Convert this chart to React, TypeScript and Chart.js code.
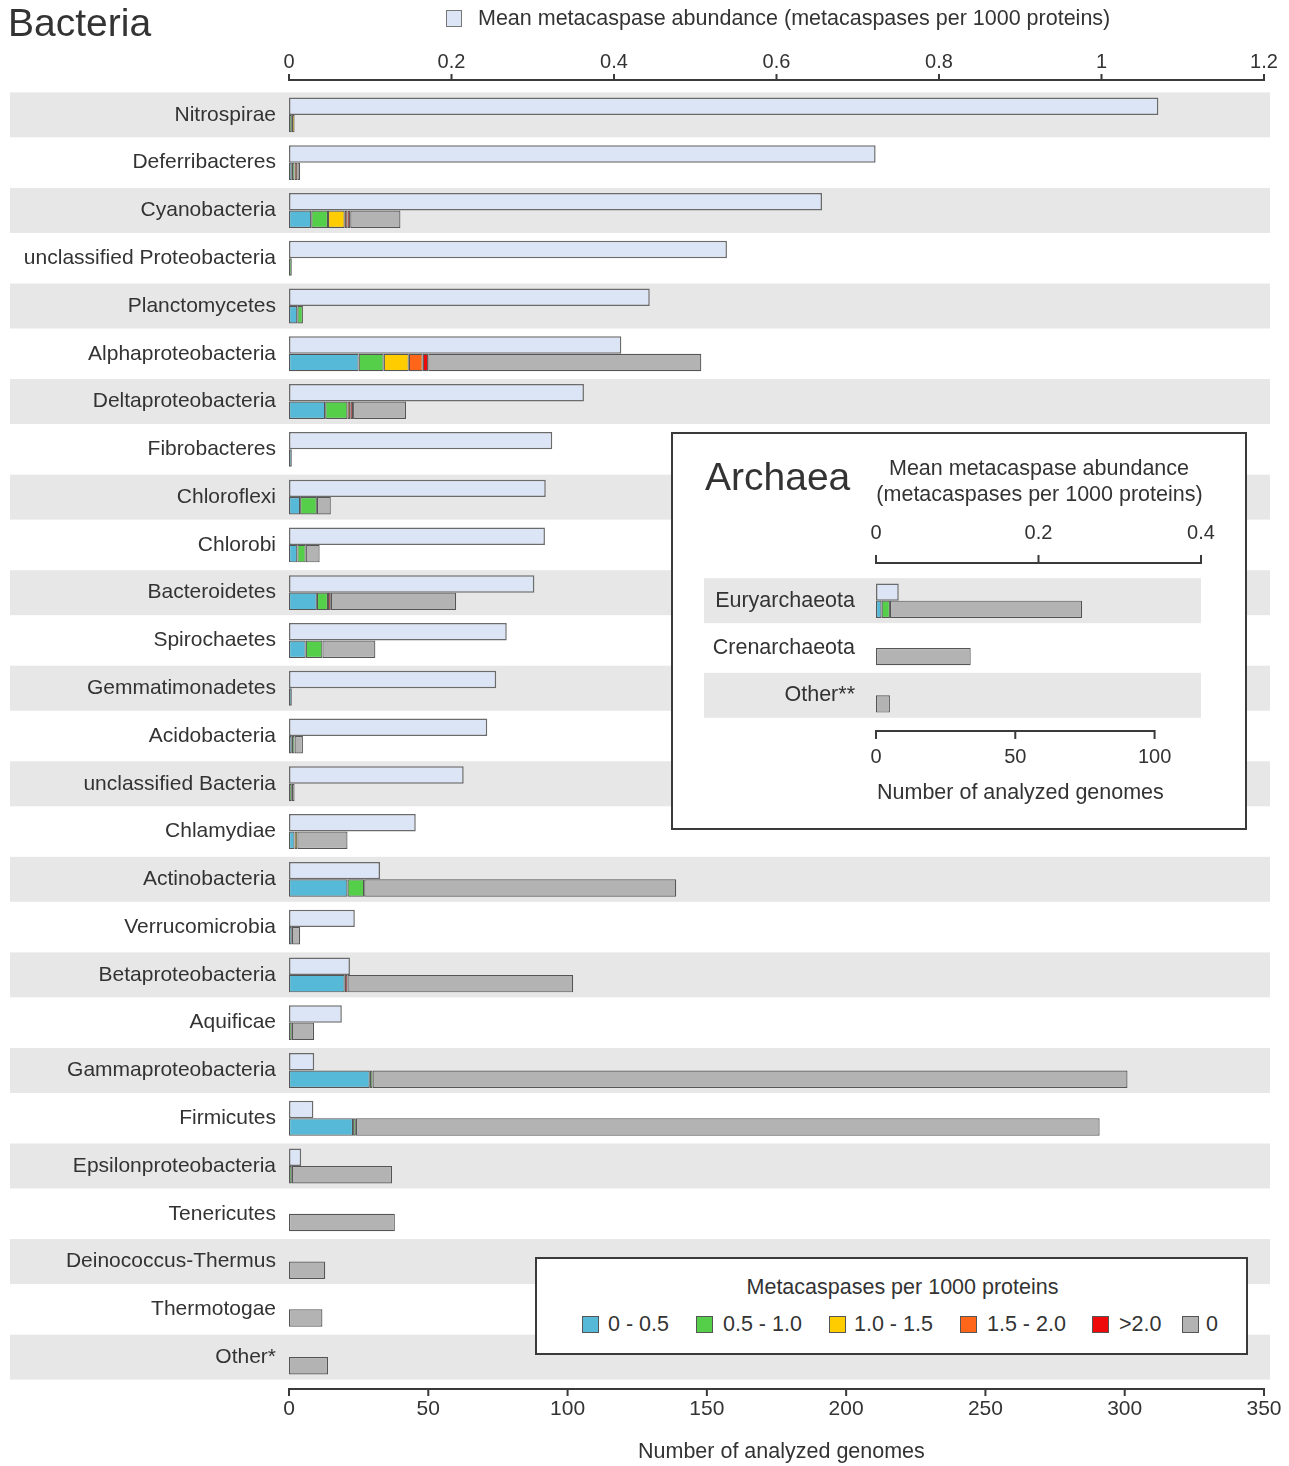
import React, { useEffect, useRef } from "react";
import { Chart, registerables } from "chart.js";

Chart.register(...registerables);

const FONT = "'Liberation Sans', Arial, Helvetica, sans-serif";
const INK = "#333333";

// ---------------- Bacteria data ----------------
const bacteriaCategories = [
  "Nitrospirae",
  "Deferribacteres",
  "Cyanobacteria",
  "unclassified Proteobacteria",
  "Planctomycetes",
  "Alphaproteobacteria",
  "Deltaproteobacteria",
  "Fibrobacteres",
  "Chloroflexi",
  "Chlorobi",
  "Bacteroidetes",
  "Spirochaetes",
  "Gemmatimonadetes",
  "Acidobacteria",
  "unclassified Bacteria",
  "Chlamydiae",
  "Actinobacteria",
  "Verrucomicrobia",
  "Betaproteobacteria",
  "Aquificae",
  "Gammaproteobacteria",
  "Firmicutes",
  "Epsilonproteobacteria",
  "Tenericutes",
  "Deinococcus-Thermus",
  "Thermotogae",
  "Other*",
];
const bacteriaMeanAbundance = [
  1.07, 0.722, 0.656, 0.539, 0.444, 0.409, 0.363, 0.324, 0.316, 0.315, 0.302, 0.268, 0.255, 0.244,
  0.215, 0.156, 0.112, 0.081, 0.075, 0.065, 0.031, 0.03, 0.015, 0, 0, 0, 0,
];
const bacteria0to05 = [0, 1, 8, 0, 3, 25, 13, 1, 4, 3, 10, 6, 1, 1, 0, 2, 21, 1, 20, 0, 29, 23, 0, 0, 0, 0, 0];
const bacteria05to10 = [1, 1, 6, 1, 2, 9, 8, 0, 6, 3, 4, 6, 0, 1, 1, 0, 6, 0, 0, 1, 1, 1, 1, 0, 0, 0, 0];
const bacteria10to15 = [1, 0, 6, 0, 0, 9, 0, 0, 0, 0, 0, 0, 0, 0, 0, 1, 0, 0, 0, 0, 0, 0, 0, 0, 0, 0, 0];
const bacteria15to20 = [0, 1, 1, 0, 0, 5, 1, 0, 0, 0, 0, 0, 0, 0, 0, 0, 0, 0, 0, 0, 0, 0, 0, 0, 0, 0, 0];
const bacteriaAbove20 = [0, 0, 1, 0, 0, 2, 1, 0, 0, 0, 1, 0, 0, 0, 0, 0, 0, 0, 1, 0, 0, 0, 0, 0, 0, 0, 0];
const bacteriaZero = [0, 1, 18, 0, 0, 98, 19, 0, 5, 5, 45, 19, 0, 3, 1, 18, 112, 3, 81, 8, 271, 267, 36, 38, 13, 12, 14];

// ---------------- Archaea data ----------------
const archaeaCategories = ["Euryarchaeota", "Crenarchaeota", "Other**"];
const archaeaMeanAbundance = [0.028, 0, 0];
const archaea0to05 = [2, 0, 0];
const archaea05to10 = [3, 0, 0];
const archaea10to15 = [0, 0, 0];
const archaea15to20 = [0, 0, 0];
const archaeaAbove20 = [0, 0, 0];
const archaeaZero = [69, 34, 5];

// ---------------- ticks & legend ----------------
const abundanceTicks = [0, 0.2, 0.4, 0.6, 0.8, 1, 1.2];
const genomeTicks = [0, 50, 100, 150, 200, 250, 300, 350];
const archaeaAbundanceTicks = [0, 0.2, 0.4];
const archaeaGenomeTicks = [0, 50, 100];

const classLabels = ["0 - 0.5", "0.5 - 1.0", "1.0 - 1.5", "1.5 - 2.0", ">2.0", "0"];
const classColors = ["#56b9d8", "#55cf4a", "#ffcc00", "#ff6619", "#ee0a0a", "#b3b3b3"];
const meanColor = "#dbe5f5";
const bandColor = "#e7e7e7";

function buildDatasets(mean: number[], segs: number[][]) {
  const nz = (a: number[]) => a.map((v) => (v === 0 ? null : v));
  return [
    {
      label: "Mean metacaspase abundance",
      data: nz(mean),
      xAxisID: "xTop",
      stack: "mean",
      backgroundColor: meanColor,
      borderColor: "#6b6b6b",
      borderWidth: 1.5,
      borderSkipped: false,
    },
    ...segs.map((d, i) => ({
      label: classLabels[i],
      data: nz(d),
      xAxisID: "x",
      stack: "genomes",
      backgroundColor: classColors[i],
      borderColor: "#555555",
      borderWidth: 1.2,
      borderSkipped: false,
    })),
  ];
}

function bandPlugin(x0: number, x1: number, h: number) {
  return {
    id: "bands",
    beforeDraw(chart: any) {
      const ctx = chart.ctx;
      const y = chart.scales.y;
      const n = chart.data.labels.length;
      ctx.save();
      ctx.fillStyle = bandColor;
      for (let i = 0; i < n; i += 2) {
        const c = y.getPixelForValue(i);
        ctx.fillRect(x0, c - h / 2, x1 - x0, h);
      }
      ctx.restore();
    },
  };
}

type AxisSpec = { id: string; edge: "top" | "bottom"; gap: number; len: number; ticks: number[] };

function axisLinePlugin(specs: AxisSpec[]) {
  return {
    id: "axisLines",
    afterDraw(chart: any) {
      const { ctx, chartArea } = chart;
      ctx.save();
      ctx.strokeStyle = "#3a3a3a";
      ctx.lineWidth = 2;
      for (const s of specs) {
        const sc = chart.scales[s.id];
        const y = s.edge === "top" ? chartArea.top - s.gap : chartArea.bottom + s.gap;
        const dir = s.edge === "top" ? -1 : 1;
        const x0 = sc.getPixelForValue(s.ticks[0]);
        const x1 = sc.getPixelForValue(s.ticks[s.ticks.length - 1]);
        ctx.beginPath();
        ctx.moveTo(x0 - 1, y);
        ctx.lineTo(x1 + 1, y);
        for (const t of s.ticks) {
          const px = sc.getPixelForValue(t);
          ctx.moveTo(px, y);
          ctx.lineTo(px, y + dir * s.len);
        }
        ctx.stroke();
      }
      ctx.restore();
    },
  };
}

type Cfg = {
  labels: string[];
  mean: number[];
  segs: number[][];
  topMax: number;
  bottomMax: number;
  topTicks: number[];
  bottomTicks: number[];
  yWidth: number;
  padRight: number;
  topH: number;
  bottomH: number;
  topPad: number;
  bottomPad: number;
  labelPad: number;
  labelSize: number;
  tickSizeTop: number;
  tickSizeBottom: number;
  bandX0: number;
  bandX1: number;
  bandH: number;
  topGap: number;
  topLen: number;
  bottomGap: number;
  bottomLen: number;
  catPct: number;
};

function zeroPad(s: any) {
  s.paddingLeft = 0;
  s.paddingRight = 0;
  s.paddingTop = 0;
  s.paddingBottom = 0;
}

function makeChart(canvas: HTMLCanvasElement, c: Cfg) {
  return new Chart(canvas, {
    type: "bar",
    data: { labels: c.labels, datasets: buildDatasets(c.mean, c.segs) as any },
    options: {
      indexAxis: "y",
      responsive: false,
      maintainAspectRatio: false,
      animation: false,
      devicePixelRatio: 1,
      layout: { padding: { left: 0, right: c.padRight, top: 0, bottom: 0 } },
      datasets: { bar: { categoryPercentage: c.catPct, barPercentage: 1 } },
      plugins: { legend: { display: false }, tooltip: { enabled: false }, title: { display: false } },
      scales: {
        y: {
          type: "category",
          position: "left",
          offset: true,
          grid: { display: false, drawTicks: false },
          border: { display: false },
          ticks: { autoSkip: false, padding: c.labelPad, color: INK, font: { family: FONT, size: c.labelSize } },
          afterFit: (s: any) => {
            s.width = c.yWidth;
            zeroPad(s);
          },
        },
        xTop: {
          type: "linear",
          axis: "x",
          position: "top",
          min: 0,
          max: c.topMax,
          grid: { display: false, drawTicks: false },
          border: { display: false },
          ticks: {
            padding: c.topPad,
            color: INK,
            font: { family: FONT, size: c.tickSizeTop },
            callback: (v: any) => String(v),
          },
          afterBuildTicks: (s: any) => {
            s.ticks = c.topTicks.map((v) => ({ value: v }));
          },
          afterFit: (s: any) => {
            s.height = c.topH;
            zeroPad(s);
          },
        },
        x: {
          type: "linear",
          position: "bottom",
          min: 0,
          max: c.bottomMax,
          stacked: true,
          grid: { display: false, drawTicks: false },
          border: { display: false },
          ticks: {
            padding: c.bottomPad,
            color: INK,
            font: { family: FONT, size: c.tickSizeBottom },
            callback: (v: any) => String(v),
          },
          afterBuildTicks: (s: any) => {
            s.ticks = c.bottomTicks.map((v) => ({ value: v }));
          },
          afterFit: (s: any) => {
            s.height = c.bottomH;
            zeroPad(s);
          },
        },
      } as any,
    },
    plugins: [
      bandPlugin(c.bandX0, c.bandX1, c.bandH),
      axisLinePlugin([
        { id: "xTop", edge: "top", gap: c.topGap, len: c.topLen, ticks: c.topTicks },
        { id: "x", edge: "bottom", gap: c.bottomGap, len: c.bottomLen, ticks: c.bottomTicks },
      ]),
    ],
  });
}

function Txt(props: { x: number; base: number; size: number; anchor?: "start" | "middle"; children: any }) {
  const { x, base, size, anchor = "start", children } = props;
  return (
    <div
      style={{
        position: "absolute",
        left: x,
        top: base - 0.8465 * size,
        fontFamily: FONT,
        fontSize: size,
        lineHeight: `${size}px`,
        color: INK,
        whiteSpace: "nowrap",
        transform: anchor === "middle" ? "translateX(-50%)" : undefined,
      }}
    >
      {children}
    </div>
  );
}

function Swatch(props: { x: number; y: number; w: number; h: number; color: string; border: string }) {
  return (
    <div
      style={{
        position: "absolute",
        left: props.x,
        top: props.y,
        width: props.w,
        height: props.h,
        boxSizing: "border-box",
        background: props.color,
        border: `1.5px solid ${props.border}`,
      }}
    />
  );
}

export default function App() {
  const mainRef = useRef<HTMLCanvasElement | null>(null);
  const insetRef = useRef<HTMLCanvasElement | null>(null);

  useEffect(() => {
    const main = makeChart(mainRef.current!, {
      labels: bacteriaCategories,
      mean: bacteriaMeanAbundance,
      segs: [bacteria0to05, bacteria05to10, bacteria10to15, bacteria15to20, bacteriaAbove20, bacteriaZero],
      topMax: 1.2,
      bottomMax: 350,
      topTicks: abundanceTicks,
      bottomTicks: genomeTicks,
      yWidth: 289,
      padRight: 25,
      topH: 91,
      bottomH: 85,
      topPad: 17,
      bottomPad: 16,
      labelPad: 13,
      labelSize: 21,
      tickSizeTop: 20,
      tickSizeBottom: 21,
      bandX0: 10,
      bandX1: 1270,
      bandH: 45,
      topGap: 11,
      topLen: 6,
      bottomGap: 8,
      bottomLen: 7,
      catPct: 0.73,
    });
    const inset = makeChart(insetRef.current!, {
      labels: archaeaCategories,
      mean: archaeaMeanAbundance,
      segs: [archaea0to05, archaea05to10, archaea10to15, archaea15to20, archaeaAbove20, archaeaZero],
      topMax: 0.4,
      bottomMax: (0.4 * 350) / 1.2,
      topTicks: archaeaAbundanceTicks,
      bottomTicks: archaeaGenomeTicks,
      yWidth: 203,
      padRight: 44,
      topH: 143,
      bottomH: 109,
      topPad: 32,
      bottomPad: 26,
      labelPad: 21,
      labelSize: 21.5,
      tickSizeTop: 20,
      tickSizeBottom: 20,
      bandX0: 31,
      bandX1: 528,
      bandH: 45,
      topGap: 14,
      topLen: 8,
      bottomGap: 12,
      bottomLen: 8,
      catPct: 0.73,
    });
    return () => {
      main.destroy();
      inset.destroy();
    };
  }, []);

  return (
    <div style={{ position: "absolute", left: 0, top: 0, width: 1289, height: 1466, overflow: "hidden", background: "#ffffff" }}>
      <canvas ref={mainRef} width={1289} height={1466} style={{ position: "absolute", left: 0, top: 0, width: 1289, height: 1466 }} />

      <Txt x={8} base={36} size={39}>Bacteria</Txt>
      <Swatch x={446} y={10} w={16} h={17} color={meanColor} border="#777777" />
      <Txt x={478} base={26.5} size={21.5}>Mean metacaspase abundance (metacaspases per 1000 proteins)</Txt>
      <Txt x={638} base={1459} size={21.5}>Number of analyzed genomes</Txt>

      {/* Archaea inset */}
      <div
        style={{
          position: "absolute",
          left: 671,
          top: 432,
          width: 576,
          height: 398,
          boxSizing: "border-box",
          border: "2px solid #3a3a3a",
          background: "#ffffff",
        }}
      >
        <canvas ref={insetRef} width={572} height={394} style={{ position: "absolute", left: 0, top: 0, width: 572, height: 394 }} />
      </div>
      <Txt x={705} base={490} size={39}>Archaea</Txt>
      <Txt x={1039} base={476.5} size={21.5} anchor="middle">Mean metacaspase abundance</Txt>
      <Txt x={1039.5} base={502} size={21.5} anchor="middle">(metacaspases per 1000 proteins)</Txt>
      <Txt x={877} base={800.5} size={21.5}>Number of analyzed genomes</Txt>

      {/* Class legend */}
      <div
        style={{
          position: "absolute",
          left: 535,
          top: 1257,
          width: 713,
          height: 98,
          boxSizing: "border-box",
          border: "2px solid #3a3a3a",
          background: "#ffffff",
        }}
      />
      <Txt x={902.5} base={1295} size={21.5} anchor="middle">Metacaspases per 1000 proteins</Txt>
      {[
        [582, 608],
        [695.5, 723],
        [829, 854],
        [960, 987],
        [1092, 1119],
        [1182, 1206],
      ].map(([sx, tx], i) => (
        <React.Fragment key={i}>
          <Swatch x={sx} y={1316} w={17} h={17} color={classColors[i]} border="#555555" />
          <Txt x={tx} base={1332} size={21.5}>{classLabels[i]}</Txt>
        </React.Fragment>
      ))}
    </div>
  );
}
